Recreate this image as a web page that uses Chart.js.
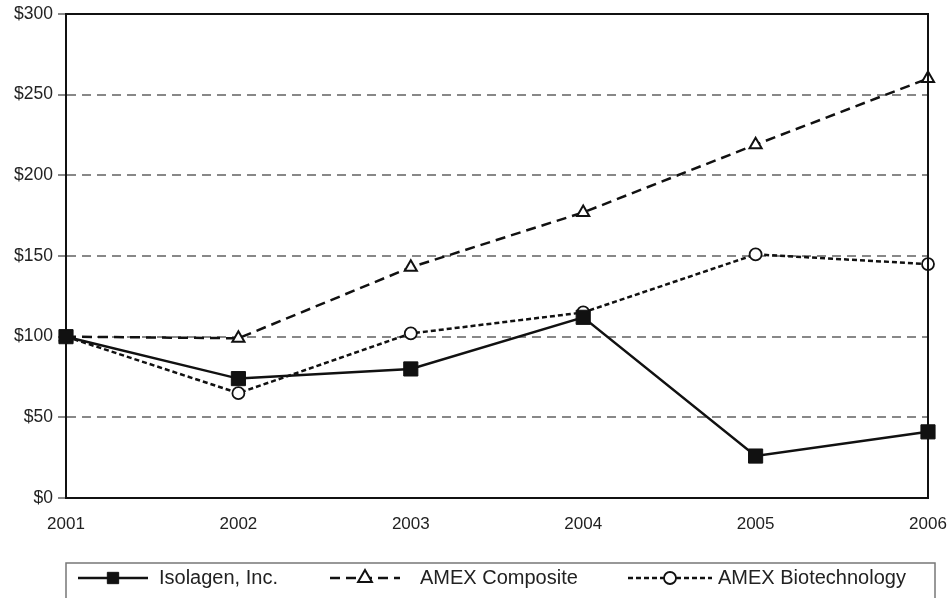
<!DOCTYPE html>
<html>
<head>
<meta charset="utf-8">
<script src="https://cdn.jsdelivr.net/npm/chart.js@4/dist/chart.umd.min.js"></script>
<style>
  html, body { margin: 0; padding: 0; background: #fff; }
  #wrap { width: 951px; height: 598px; position: relative; }
</style>
</head>
<body>
<div id="wrap"><canvas id="perfChart"></canvas></div>
<script>
// chart values
const years = ['2001', '2002', '2003', '2004', '2005', '2006'];
const isolagen = [100, 74, 80, 112, 26, 41];
const amexComposite = [100, 99, 143, 177, 219, 260];
const amexBiotech = [100, 65, 102, 115, 151, 145];
const yTicks = [0, 50, 100, 150, 200, 250, 300];

const FONT = 'Liberation Sans, Arial, sans-serif';

// frame around the plot (top + right solid lines)
const frame = {
    id: 'frame',
    afterDatasetsDraw(chart) {
        const a = chart.chartArea, c = chart.ctx;
        c.save();
        c.strokeStyle = '#111';
        c.lineWidth = 2;
        c.beginPath();
        c.moveTo(a.left, a.top);
        c.lineTo(a.right, a.top);
        c.lineTo(a.right, a.bottom);
        c.stroke();
        c.restore();
    }
};

// legend box drawn by hand so each sample shows line style + marker
const boxLegend = {
    id: 'boxLegend',
    afterDraw(chart) {
        const c = chart.ctx;
        const top = 563;
        c.save();
        c.strokeStyle = '#777';
        c.lineWidth = 1.5;
        c.strokeRect(66, top, 869, 60);
        const items = [
            { x0: 78, x1: 148, tx: 159 },
            { x0: 330, x1: 400, tx: 420 },
            { x0: 628, x1: 712, tx: 718 }
        ];
        const y = 578;
        chart.data.datasets.forEach((ds, i) => {
            const it = items[i];
            c.strokeStyle = ds.borderColor;
            c.lineWidth = ds.borderWidth;
            c.setLineDash(ds.borderDash || []);
            c.beginPath();
            c.moveTo(it.x0, y);
            c.lineTo(it.x1, y);
            c.stroke();
            c.setLineDash([]);
            c.fillStyle = ds.pointBackgroundColor;
            c.strokeStyle = ds.pointBorderColor;
            c.lineWidth = ds.pointBorderWidth;
            Chart.helpers.drawPoint(c, {
                pointStyle: ds.pointStyle,
                rotation: 0,
                radius: ds.pointStyle === 'circle' ? 6 : 8,
                borderWidth: ds.pointBorderWidth
            }, (it.x0 + it.x1) / 2, y);
            c.fillStyle = '#222';
            c.font = '20px ' + FONT;
            c.textBaseline = 'middle';
            c.fillText(ds.label, it.tx, y);
        });
        c.restore();
    }
};

const ctx = document.getElementById('perfChart').getContext('2d');
new Chart(ctx, {
    type: 'line',
    data: {
        labels: years,
        datasets: [
            {
                label: 'Isolagen, Inc.',
                data: isolagen,
                borderColor: '#111',
                borderWidth: 2.5,
                pointStyle: 'rect',
                pointRadius: 10,
                pointBackgroundColor: '#111',
                pointBorderColor: '#111',
                pointBorderWidth: 1,
                tension: 0
            },
            {
                label: 'AMEX Composite',
                data: amexComposite,
                borderColor: '#111',
                borderWidth: 2.5,
                borderDash: [10, 6],
                pointStyle: 'triangle',
                pointRadius: 7,
                pointBackgroundColor: '#fff',
                pointBorderColor: '#111',
                pointBorderWidth: 2,
                tension: 0
            },
            {
                label: 'AMEX Biotechnology',
                data: amexBiotech,
                borderColor: '#111',
                borderWidth: 2.5,
                borderDash: [5, 3],
                pointStyle: 'circle',
                pointRadius: 6,
                pointBackgroundColor: '#fff',
                pointBorderColor: '#111',
                pointBorderWidth: 1.8,
                tension: 0
            }
        ]
    },
    options: {
        responsive: true,
        maintainAspectRatio: false,
        animation: false,
        layout: { padding: { top: 14, right: 23, bottom: 60, left: 0 } },
        plugins: {
            legend: { display: false },
            tooltip: { enabled: false }
        },
        scales: {
            y: {
                min: 0,
                max: 300,
                afterFit: s => { s.width = 66; s.paddingTop = 0; s.paddingBottom = 0; },
                afterBuildTicks: s => { s.ticks = yTicks.map(v => ({ value: v })); },
                ticks: {
                    padding: 5,
                    color: '#222',
                    font: { family: FONT, size: 17.5 },
                    callback: v => '$' + v
                },
                grid: {
                    color: ctx => (ctx.tick && (ctx.tick.value === 0 || ctx.tick.value === 300)) ? 'rgba(0,0,0,0)' : '#888',
                    lineWidth: 2,
                    tickLength: 8,
                    tickColor: '#888'
                },
                border: { display: true, color: '#111', width: 2, dash: [9, 6] }
            },
            x: {
                afterFit: s => { s.height = 40; s.paddingLeft = 0; s.paddingRight = 0; },
                ticks: {
                    padding: 8,
                    color: '#222',
                    maxRotation: 0,
                    font: { family: FONT, size: 17 }
                },
                grid: { display: false },
                border: { display: true, color: '#111', width: 2 }
            }
        }
    },
    plugins: [frame, boxLegend]
});
</script>
</body>
</html>
